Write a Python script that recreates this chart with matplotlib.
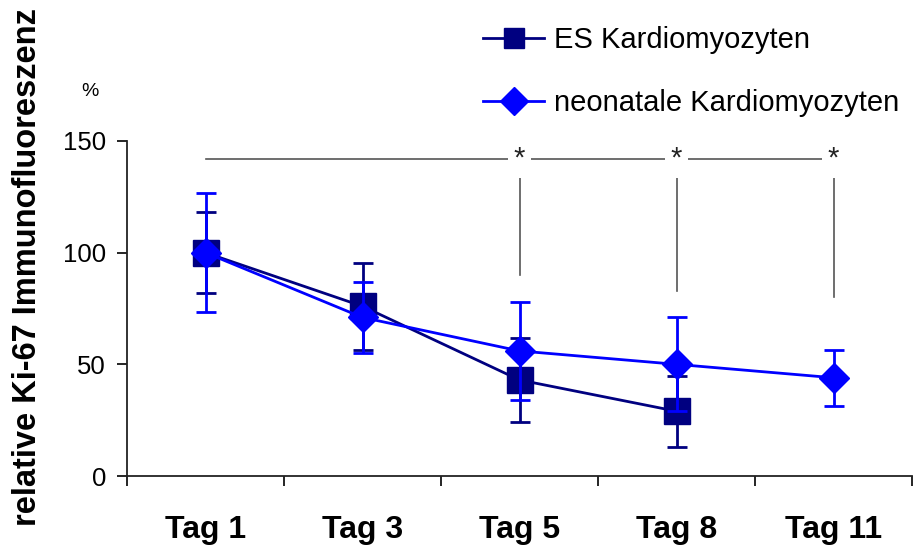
import matplotlib
matplotlib.use("Agg")
import matplotlib.pyplot as plt
from matplotlib.lines import Line2D
import numpy as np

plt.rcParams['font.family'] = ['Liberation Sans', 'DejaVu Sans']

categories = ["Tag 1", "Tag 3", "Tag 5", "Tag 8", "Tag 11"]
es_values = [100, 76, 43, 29]
es_err = [18, 19.5, 19, 16]
neo_values = [100, 71, 56, 50, 44]
neo_err = [26.5, 16, 22, 21, 12.5]
y_ticks = [0, 50, 100, 150]
series_labels = ["ES Kardiomyozyten", "neonatale Kardiomyozyten"]

# significance annotation data
sig_idx = [2, 3, 4]
sig_bar_y = 142
sig_drop_top = 136
sig_drop_bottom = [90, 83, 80]

es_color = "#000080"
neo_color = "#0000FF"
sig_color = "#555555"

fig = plt.figure(figsize=(9.2, 5.48), dpi=100)
ax = fig.add_axes([127/920, 1-476/548, (912-127)/920, (476-141)/548])

x = np.arange(len(categories))

ax.errorbar(x[:len(es_values)], es_values, yerr=es_err, color=es_color, ecolor=es_color,
            lw=2, elinewidth=2, capsize=7, capthick=2, marker='s', ms=19,
            mfc=es_color, mec=es_color, zorder=3)
ax.errorbar(x, neo_values, yerr=neo_err, color=neo_color, ecolor=neo_color,
            lw=2, elinewidth=2, capsize=7, capthick=2, marker='D', ms=15,
            mfc=neo_color, mec=neo_color, zorder=4)

# significance lines
ax.plot([x[0], x[sig_idx[-1]]], [sig_bar_y, sig_bar_y], color=sig_color, lw=1.2, zorder=1)
for i, yb in zip(sig_idx, sig_drop_bottom):
    ax.plot([x[i], x[i]], [yb, sig_drop_top], color=sig_color, lw=1.2, zorder=1)
    ax.text(x[i], sig_bar_y, "*", ha='center', va='center', fontsize=21, color='#222222',
            bbox=dict(facecolor='white', edgecolor='none', pad=4), zorder=2)

ax.set_xlim(-0.5, len(categories)-0.5)
ax.set_ylim(0, 150)
ax.set_yticks(y_ticks)
ax.set_yticklabels([str(v) for v in y_ticks], fontsize=18.5)
ax.set_xticks(x)
ax.set_xticklabels(categories, fontsize=23, fontweight='bold')
ax.set_xticks(np.arange(len(categories)+1) - 0.5, minor=True)
ax.tick_params(axis='x', which='major', length=0, pad=28)
ax.tick_params(axis='x', which='minor', length=7, width=1.2, direction='out')
ax.tick_params(axis='y', length=7, width=1.2, direction='out', pad=8)
for s in ['top', 'right']:
    ax.spines[s].set_visible(False)
for s in ['left', 'bottom']:
    ax.spines[s].set_linewidth(1.3)
    ax.spines[s].set_color('#222222')

fig.text(28/920, 1-267/548, "relative Ki-67 Immunofluoreszenz", rotation=90, ha='center', va='center',
         fontsize=23.5, fontweight='bold')
fig.text(90/920, 1-91/548, "%", ha='center', va='center', fontsize=14)

handles = [
    Line2D([], [], color=es_color, lw=2, marker='s', ms=15, mfc=es_color, mec=es_color),
    Line2D([], [], color=neo_color, lw=2, marker='D', ms=14, mfc=neo_color, mec=neo_color),
]
leg = ax.legend(handles, series_labels, loc='upper left', bbox_to_anchor=(483/920, 1-26/548),
                bbox_transform=fig.transFigure, frameon=False, fontsize=21, handlelength=2.1,
                handletextpad=0.35, labelspacing=1.2, borderpad=0, borderaxespad=0)

fig.savefig("out.png", dpi=100)
